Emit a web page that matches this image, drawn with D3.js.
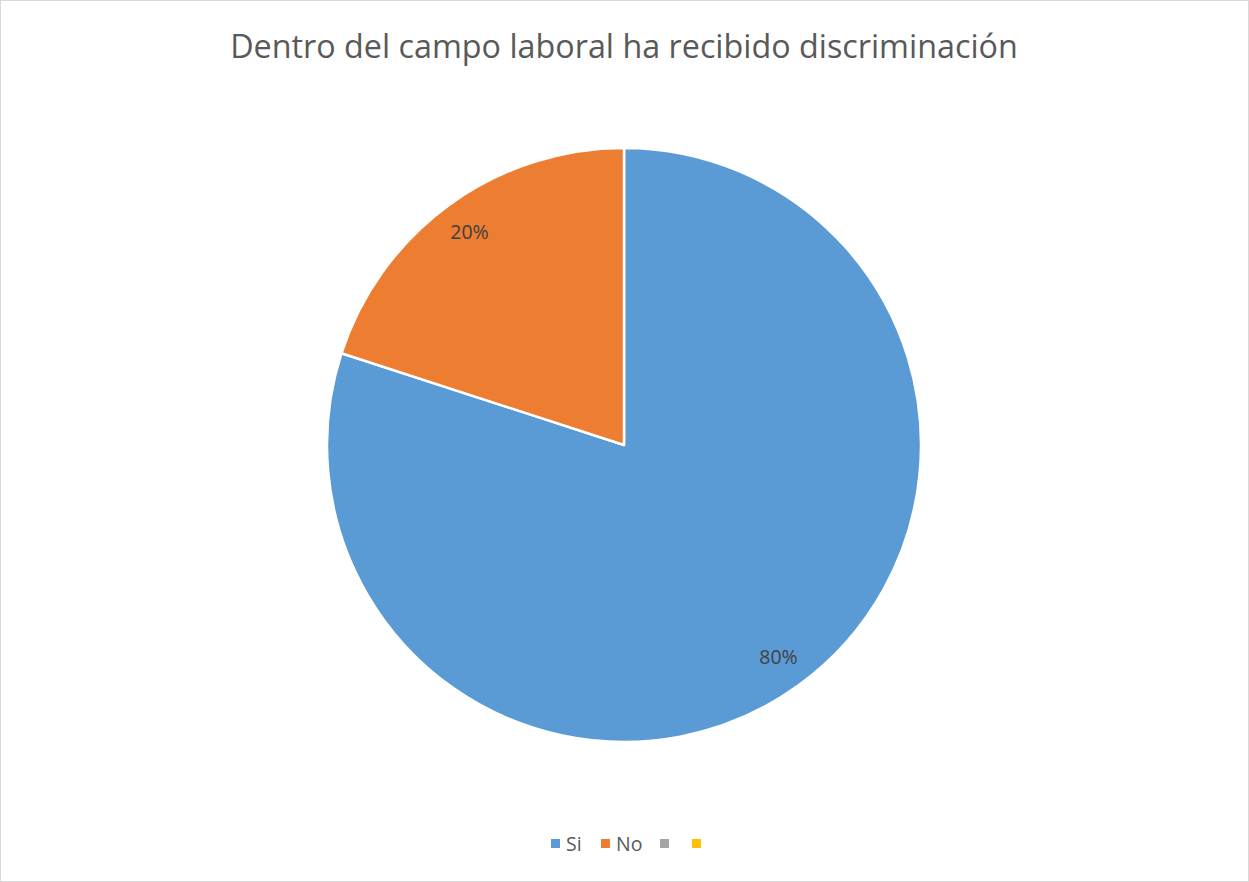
<!DOCTYPE html>
<html>
<head>
<meta charset="utf-8">
<script src="https://cdn.jsdelivr.net/npm/d3@7"></script>
<style>
html,body{margin:0;padding:0;background:#fff;}
svg{display:block;}
</style>
</head>
<body>
<svg id="chart" width="1249" height="882"></svg>
<script>
const categories = ["Si", "No", "", ""];
const values = [80, 20, 0, 0];
const colors = ["#5B9BD5", "#ED7D31", "#A5A5A5", "#FFC000"];
const title = "Dentro del campo laboral ha recibido discriminación";

const W = 1249, H = 882;
const svg = d3.select("#chart");
svg.append("rect").attr("x",0.5).attr("y",0.5).attr("width",W-1).attr("height",H-1)
  .attr("fill","#fff").attr("stroke","#d9d9d9").attr("stroke-width",1);

const font = "'Open Sans', 'Liberation Sans', sans-serif";
const t = svg.append("text").attr("x", 624).attr("y", 58).attr("text-anchor","middle")
  .attr("font-family", font).attr("font-size", 31).attr("fill","#595959").text(title);
const tl = t.node().getComputedTextLength();
t.attr("font-size", 31 * 788 / tl);

const cx = 624, cy = 445, R = 297;
const data = categories.map((c,i)=>({cat:c, value:values[i], color:colors[i]}));
const pie = d3.pie().value(d=>d.value).sort(null);
const arcs = pie(data);
const arc = d3.arc().innerRadius(0).outerRadius(R);
const labelArc = d3.arc().innerRadius(R*0.885).outerRadius(R*0.885);
const totals = d3.sum(values);
const fmt = d3.format(".0%");

const g = svg.append("g").attr("transform",`translate(${cx},${cy})`);
g.selectAll("path").data(arcs.filter(d=>d.data.value>0)).join("path")
  .attr("d", arc).attr("fill", d=>d.data.color)
  .attr("stroke","#fff").attr("stroke-width",2.5).attr("stroke-linejoin","round");
g.selectAll("text.lbl").data(arcs.filter(d=>d.data.value>0)).join("text")
  .attr("class","lbl")
  .attr("transform", d=>`translate(${labelArc.centroid(d)})`)
  .attr("text-anchor","middle").attr("dy","0.35em")
  .attr("font-family", font).attr("font-size", 19.5).attr("fill","#404040")
  .text(d=>fmt(d.data.value/totals));

// legend
const legendItems = [
  {x:551, tx:566},
  {x:601, tx:616},
  {x:660, tx:676},
  {x:692, tx:708}
];
const lg = svg.append("g");
data.forEach((d,i)=>{
  lg.append("rect").attr("x", legendItems[i].x).attr("y", 839).attr("width",9).attr("height",9).attr("fill", d.color);
  lg.append("text").attr("x", legendItems[i].tx).attr("y", 850.5)
    .attr("font-family", font).attr("font-size", 19.5).attr("fill","#595959").text(d.cat);
});
</script>
</body>
</html>
